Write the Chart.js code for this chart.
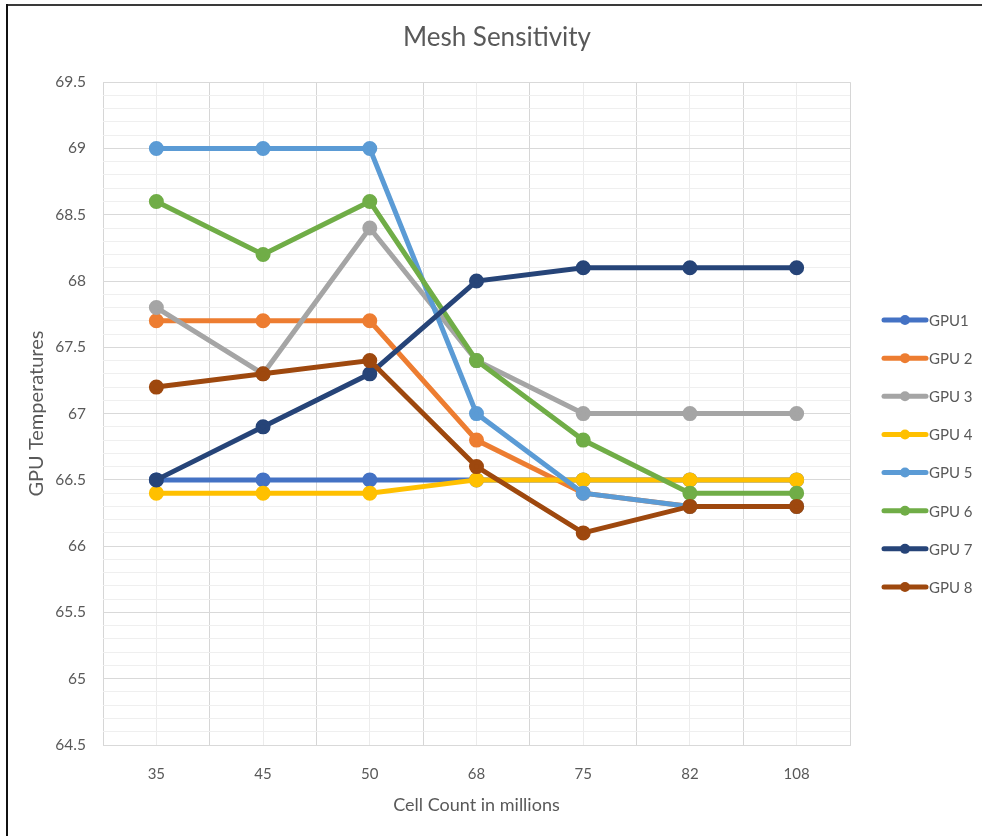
<!DOCTYPE html>
<html>
<head>
<meta charset="utf-8">
<script src="https://cdn.jsdelivr.net/npm/chart.js@4/dist/chart.umd.min.js"></script>
<style>
  html, body { margin: 0; padding: 0; background: #fff; }
  #wrap { position: relative; width: 982px; height: 836px; overflow: hidden; }
  #frameTop { position: absolute; left: 6px; top: 4px; width: 976px; height: 2px; background: #3a3a3a; }
  #frameLeft { position: absolute; left: 6px; top: 4px; width: 2px; height: 832px; background: #111; }
  canvas { position: absolute; left: 0; top: 0; }
</style>
</head>
<body>
<div id="wrap">
  <canvas id="c" width="982" height="836"></canvas>
  <div id="frameTop"></div>
  <div id="frameLeft"></div>
</div>
<script>
const categories = ["35", "45", "50", "68", "75", "82", "108"];
const seriesNames = ["GPU1", "GPU 2", "GPU 3", "GPU 4", "GPU 5", "GPU 6", "GPU 7", "GPU 8"];
const gpu1 = [66.5, 66.5, 66.5, 66.5, 66.5, 66.5, 66.5];
const gpu2 = [67.7, 67.7, 67.7, 66.8, 66.4, 66.3, 66.3];
const gpu3 = [67.8, 67.3, 68.4, 67.4, 67.0, 67.0, 67.0];
const gpu4 = [66.4, 66.4, 66.4, 66.5, 66.5, 66.5, 66.5];
const gpu5 = [69.0, 69.0, 69.0, 67.0, 66.4, 66.3, 66.3];
const gpu6 = [68.6, 68.2, 68.6, 67.4, 66.8, 66.4, 66.4];
const gpu7 = [66.5, 66.9, 67.3, 68.0, 68.1, 68.1, 68.1];
const gpu8 = [67.2, 67.3, 67.4, 66.6, 66.1, 66.3, 66.3];
const seriesColors = ["#4472C4", "#ED7D31", "#A5A5A5", "#FFC000", "#5B9BD5", "#70AD47", "#264478", "#9E480E"];
const yMin = 64.5, yMax = 69.5, yMajor = 0.5, yMinor = 0.1;
const chartTitle = "Mesh Sensitivity";
const xTitle = "Cell Count in millions";
const yTitle = "GPU Temperatures";

const allValues = [gpu1, gpu2, gpu3, gpu4, gpu5, gpu6, gpu7, gpu8];
const FONT = "Lato, 'Open Sans', sans-serif";
const TXT = "#595959";

const datasets = allValues.map((vals, i) => ({
  label: seriesNames[i],
  data: vals,
  xAxisID: 'x',
  yAxisID: 'y',
  order: allValues.length - 1 - i,
  borderColor: seriesColors[i],
  backgroundColor: seriesColors[i],
  borderWidth: 5,
  pointRadius: 5,
  pointHoverRadius: 5,
  pointBackgroundColor: seriesColors[i],
  pointBorderColor: seriesColors[i],
  tension: 0
}));

const legendPlugin = {
  id: 'sideLegend',
  afterDraw(chart) {
    const ctx = chart.ctx;
    const x0 = 884, lineLen = 42, y0 = 320, step = 38.14;
    ctx.save();
    seriesNames.forEach((name, i) => {
      const y = y0 + i * step;
      const col = seriesColors[i];
      ctx.strokeStyle = col;
      ctx.lineWidth = 5;
      ctx.lineCap = 'round';
      ctx.beginPath();
      ctx.moveTo(x0, y);
      ctx.lineTo(x0 + lineLen, y);
      ctx.stroke();
      ctx.fillStyle = col;
      ctx.beginPath();
      ctx.arc(x0 + lineLen / 2, y, 5, 0, Math.PI * 2);
      ctx.fill();
      ctx.fillStyle = TXT;
      ctx.font = "15px " + FONT;
      ctx.textAlign = 'left';
      ctx.textBaseline = 'middle';
      ctx.fillText(name, x0 + lineLen + 3, y + 1);
    });
    ctx.restore();
  }
};

function isMajor(v) {
  const r = (v - yMin) / yMajor;
  return Math.abs(r - Math.round(r)) < 1e-6;
}

new Chart(document.getElementById('c'), {
  type: 'line',
  data: { labels: categories, datasets },
  plugins: [legendPlugin],
  options: {
    responsive: false,
    animation: false,
    devicePixelRatio: 1,
    layout: { padding: { left: 12, right: 0, top: 0, bottom: 0 } },
    plugins: {
      legend: { display: false },
      tooltip: { enabled: false },
      title: {
        display: true,
        text: chartTitle,
        color: TXT,
        font: { family: FONT, size: 26, weight: 'normal' },
        padding: { top: 22, bottom: 29 }
      }
    },
    scales: {
      x: {
        type: 'category',
        offset: true,
        position: 'bottom',
        afterFit(scale) { scale.height = 91; },
        grid: { display: false },
        border: { display: true, color: '#d9d9d9', width: 1 },
        ticks: { color: TXT, font: { family: FONT, size: 15 }, padding: 12 },
        title: { display: true, text: xTitle, color: TXT, font: { family: FONT, size: 18 }, padding: { top: 8, bottom: 20 } }
      },
      x2: {
        type: 'linear',
        position: 'bottom',
        min: -0.5,
        max: categories.length - 0.5,
        afterBuildTicks(scale) {
          const t = [];
          for (let v = -0.5; v <= categories.length - 0.5 + 1e-9; v += 0.5) t.push({ value: v });
          scale.ticks = t;
        },
        afterFit(scale) { scale.height = 0; },
        grid: {
          drawTicks: false,
          color: ctx => (Math.abs(ctx.tick.value - Math.round(ctx.tick.value)) < 1e-6) ? '#ececec' : '#d6d6d6',
          lineWidth: 1
        },
        border: { display: false },
        ticks: { display: false }
      },
      y: {
        type: 'linear',
        position: 'left',
        min: yMin,
        max: yMax,
        afterBuildTicks(scale) {
          const t = [];
          const n = Math.round((yMax - yMin) / yMinor);
          for (let k = 0; k <= n; k++) t.push({ value: +(yMin + k * yMinor).toFixed(2) });
          scale.ticks = t;
        },
        afterFit(scale) { scale.width = 91; },
        grid: {
          drawTicks: false,
          color: ctx => isMajor(ctx.tick.value) ? '#d9d9d9' : '#efefef',
          lineWidth: 1
        },
        border: { display: false },
        ticks: {
          autoSkip: false,
          color: TXT,
          padding: 17,
          font: { family: FONT, size: 15.5 },
          callback: v => isMajor(v) ? String(+v.toFixed(1)) : ''
        },
        title: { display: true, text: yTitle, color: TXT, font: { family: FONT, size: 20 }, padding: { top: 13, bottom: 6 } }
      },
      yRight: {
        type: 'linear',
        position: 'right',
        display: true,
        afterFit(scale) { scale.width = 132; },
        grid: { display: false },
        border: { display: false },
        ticks: { display: false }
      }
    }
  }
});
</script>
</body>
</html>
